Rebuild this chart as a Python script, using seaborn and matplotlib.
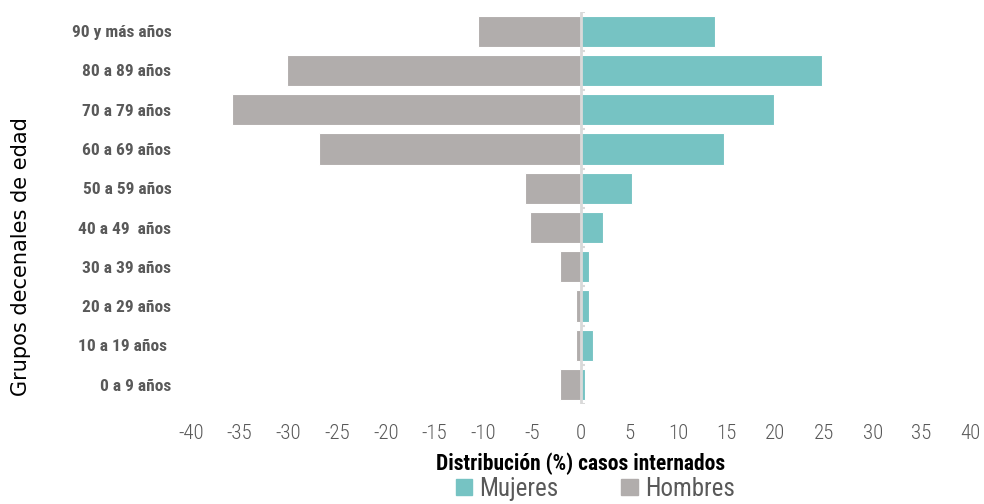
import matplotlib
matplotlib.use("Agg")
import matplotlib.pyplot as plt
import seaborn as sns
import pandas as pd
from matplotlib.patches import Patch
from matplotlib import font_manager

# Data: % distribution of hospitalised cases by age group
grupos = ['90 y más años', '80 a 89 años', '70 a 79 años', '60 a 69 años', '50 a 59 años',
          '40 a 49  años', '30 a 39 años', '20 a 29 años', '10 a 19 años ', '0 a 9 años']
mujeres = [13.8, 24.8, 19.9, 14.7, 5.3, 2.3, 0.9, 0.9, 1.3, 0.5]
hombres = [10.5, 30.1, 35.8, 26.9, 5.7, 5.2, 2.1, 0.5, 0.5, 2.1]
ticks = list(range(-40, 45, 5))

col_muj = '#76C3C3'
col_hom = '#B1ADAC'
gris = '#595959'

# pick the narrowest family available
names = {f.name for f in font_manager.fontManager.ttflist}
narrow = [f for f in ['Roboto Condensed', 'Liberation Sans Narrow', 'Roboto', 'Liberation Sans']
          if f in names][:1] + ['DejaVu Sans']

df = pd.DataFrame({'grupo': grupos, 'Mujeres': mujeres,
                   'Hombres': [-v for v in hombres]})

sns.set_style('white')
plt.rcParams['font.family'] = narrow

fig = plt.figure(figsize=(9.84, 5.04), dpi=100)
ax = fig.add_axes([0.194, 0.198, 0.792, 0.779])

sns.barplot(data=df, x='Hombres', y='grupo', color=col_hom, orient='h',
            width=0.8, saturation=1, ax=ax, edgecolor='white', linewidth=0.8)
sns.barplot(data=df, x='Mujeres', y='grupo', color=col_muj, orient='h',
            width=0.8, saturation=1, ax=ax, edgecolor='white', linewidth=0.8)

# zero line with small tick marks between groups
ax.axvline(0, color='#D9D9D9', lw=2, zorder=5)
n = len(grupos)
ax.hlines([i + 0.5 for i in range(-1, n)], 0, 0.45, color='#D9D9D9', lw=1.5, zorder=5)

ax.set_xlim(-40, 40)
ax.set_ylim(n - 0.5, -0.5)
ax.set_xticks(ticks)
ax.set_xticklabels([str(t) for t in ticks], fontsize=15, color=gris, fontweight='light')
ax.tick_params(axis='x', length=0, pad=14)
ax.tick_params(axis='y', length=0, pad=14)
for lab in ax.get_yticklabels():
    lab.set_fontsize(12.5)
    lab.set_fontweight('bold')
    lab.set_color(gris)

for s in ax.spines.values():
    s.set_visible(False)

ax.set_ylabel('')
ax.set_xlabel('Distribución (%) casos internados', fontsize=15.5, fontweight='bold',
              color='black', labelpad=7)

fig.text(0.021, 0.49, 'Grupos decenales de edad', rotation=90, va='center', ha='center',
         fontsize=15, color='black', family=['DejaVu Sans'])

handles = [Patch(color=col_muj, label='Mujeres'), Patch(color=col_hom, label='Hombres')]
fig.legend(handles=handles, loc='lower center', bbox_to_anchor=(0.605, -0.038), ncol=2,
           frameon=False, fontsize=18, labelcolor=gris, handlelength=0.65, handleheight=0.65,
           handletextpad=0.3, columnspacing=2.5)

fig.savefig('out.png', dpi=100)
